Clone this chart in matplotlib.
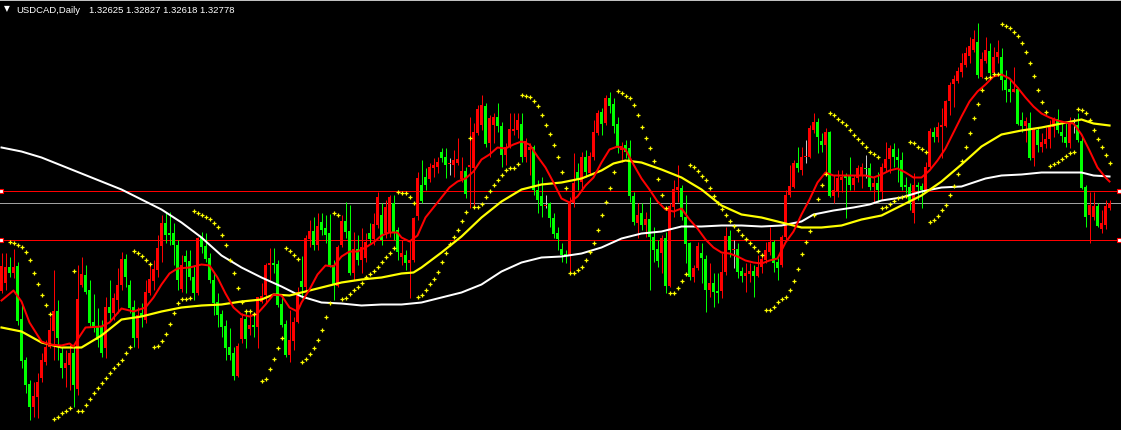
import numpy as np
import matplotlib
matplotlib.use("Agg")
import matplotlib.pyplot as plt

# USDCAD daily candles, levels (chart rows, top = 0)
# red body = rising day, green body = falling day (terminal colour scheme)
opens = [
    291, 283, 267, 273, 266, 319, 360, 384, 407, 397,
    378, 362, 347, 331, 311, 353, 368, 365, 353, 389,
    285, 275, 290, 322, 327, 327, 348, 307, 313, 300,
    285, 259, 285, 307, 338, 313, 320, 293, 281, 270,
    246, 223, 233, 233, 245, 289, 256, 261, 277, 293,
    237, 246, 258, 280, 302, 314, 326, 347, 353, 376,
    339, 319, 329, 325, 327, 302, 295, 265, 263, 264,
    304, 324, 355, 341, 322, 281, 287, 239, 231, 245,
    222, 228, 233, 265, 286, 245, 221, 231, 273, 249,
    260, 258, 233, 239, 225, 215, 233, 232, 203, 230,
    257, 255, 263, 260, 216, 185, 177, 179, 168, 167,
    152, 157, 164, 165, 163, 179, 171, 167, 168, 133,
    125, 106, 143, 125, 117, 126, 155, 147, 131, 130,
    124, 157, 150, 147, 190, 196, 206, 203, 218, 233,
    249, 254, 255, 203, 172, 182, 157, 173, 157, 133,
    112, 123, 98, 104, 124, 150, 145, 148, 196, 223,
    213, 225, 219, 237, 249, 253, 238, 286, 207, 190,
    188, 217, 243, 277, 268, 253, 259, 290, 283, 291,
    291, 272, 236, 250, 249, 271, 276, 274, 271, 276,
    267, 260, 252, 242, 262, 265, 237, 195, 187, 163,
    170, 157, 157, 130, 122, 141, 145, 132, 196, 191,
    180, 176, 176, 185, 178, 176, 168, 168, 187, 183,
    191, 168, 159, 149, 157, 160, 185, 187, 213, 185,
    186, 190, 167, 132, 137, 127, 126, 101, 84, 81,
    72, 65, 56, 50, 42, 77, 61, 51, 73, 57,
    57, 80, 89, 92, 89, 120, 126, 123, 158, 130,
    147, 144, 139, 127, 119, 132, 137, 143, 123, 125,
    141, 187, 215, 217, 206, 229, 225, 208,
]
closes = [
    266, 267, 273, 267, 321, 361, 385, 407, 396, 382,
    360, 347, 330, 311, 338, 368, 363, 353, 385, 299,
    274, 292, 323, 328, 340, 353, 307, 313, 298, 285,
    259, 277, 308, 338, 315, 317, 292, 279, 269, 248,
    223, 235, 235, 245, 280, 265, 262, 277, 293, 238,
    247, 259, 280, 303, 315, 327, 348, 355, 376, 346,
    318, 339, 325, 327, 297, 296, 265, 263, 265, 305,
    325, 355, 340, 322, 292, 287, 238, 231, 245, 226,
    230, 235, 265, 285, 247, 221, 232, 273, 249, 260,
    247, 242, 239, 224, 197, 240, 207, 197, 232, 252,
    253, 263, 260, 218, 178, 201, 185, 167, 165, 162,
    158, 165, 163, 160, 159, 171, 194, 165, 132, 109,
    105, 144, 118, 117, 126, 155, 147, 129, 129, 120,
    157, 141, 147, 190, 200, 206, 205, 218, 234, 239,
    255, 256, 202, 183, 180, 157, 172, 156, 132, 113,
    124, 98, 106, 126, 148, 146, 152, 196, 222, 215,
    225, 219, 237, 250, 261, 238, 286, 206, 189, 187,
    217, 244, 277, 268, 246, 258, 290, 283, 292, 293,
    272, 236, 250, 249, 272, 276, 273, 271, 276, 267,
    259, 250, 242, 263, 268, 237, 195, 186, 163, 168,
    157, 156, 128, 122, 137, 145, 132, 196, 190, 178,
    177, 178, 185, 178, 168, 167, 169, 187, 183, 190,
    167, 159, 148, 157, 160, 187, 187, 203, 185, 187,
    190, 167, 131, 137, 127, 125, 101, 85, 79, 71,
    63, 53, 46, 39, 75, 59, 50, 73, 57, 52,
    80, 90, 92, 89, 124, 126, 121, 158, 130, 145,
    142, 139, 125, 119, 130, 136, 143, 122, 124, 140,
    188, 217, 205, 206, 226, 223, 206, 203,
]
highs = [
    253, 253, 257, 249, 262, 305, 357, 380, 382, 373,
    353, 340, 317, 270, 300, 347, 350, 343, 347, 265,
    257, 265, 280, 294, 308, 320, 297, 280, 293, 268,
    252, 254, 280, 300, 307, 303, 280, 265, 260, 235,
    215, 212, 212, 223, 240, 255, 250, 250, 265, 237,
    232, 233, 253, 272, 293, 310, 320, 328, 347, 343,
    313, 310, 310, 313, 297, 283, 263, 248, 248, 260,
    297, 320, 310, 317, 287, 256, 235, 220, 217, 213,
    213, 215, 214, 260, 245, 215, 202, 205, 232, 235,
    228, 233, 223, 213, 192, 203, 200, 195, 195, 227,
    240, 250, 240, 217, 172, 160, 168, 163, 158, 157,
    148, 148, 158, 150, 138, 157, 167, 117, 123, 105,
    95, 103, 115, 113, 103, 122, 143, 113, 113, 113,
    113, 138, 143, 145, 180, 177, 195, 202, 213, 227,
    243, 250, 197, 153, 163, 152, 150, 152, 120, 110,
    108, 95, 92, 98, 117, 142, 140, 140, 192, 203,
    203, 212, 197, 227, 240, 235, 232, 203, 180, 165,
    185, 195, 242, 265, 242, 243, 255, 263, 273, 273,
    253, 227, 230, 240, 243, 267, 263, 263, 265, 255,
    255, 242, 227, 240, 258, 235, 190, 165, 160, 147,
    147, 140, 125, 113, 118, 133, 128, 131, 175, 170,
    170, 173, 157, 175, 165, 163, 155, 163, 177, 172,
    163, 142, 145, 143, 148, 152, 177, 183, 173, 182,
    183, 162, 128, 127, 122, 108, 100, 82, 75, 67,
    53, 47, 37, 30, 23, 52, 37, 43, 47, 40,
    48, 70, 80, 67, 87, 112, 117, 112, 128, 127,
    133, 127, 120, 117, 109, 123, 123, 117, 118, 113,
    135, 185, 192, 192, 203, 210, 200, 200,
]
lows = [
    293, 290, 277, 278, 325, 368, 393, 420, 417, 418,
    382, 365, 348, 360, 360, 378, 387, 390, 407, 395,
    287, 294, 327, 332, 347, 357, 358, 320, 320, 313,
    290, 287, 313, 347, 348, 327, 323, 295, 290, 277,
    262, 243, 245, 265, 290, 292, 293, 280, 300, 295,
    253, 262, 283, 315, 327, 337, 360, 360, 380, 377,
    343, 348, 335, 337, 348, 303, 302, 280, 273, 307,
    327, 357, 362, 350, 323, 298, 290, 247, 250, 250,
    235, 243, 267, 300, 287, 247, 238, 275, 280, 265,
    273, 262, 243, 245, 228, 245, 238, 237, 240, 260,
    265, 270, 298, 262, 220, 203, 190, 182, 177, 173,
    162, 178, 175, 177, 165, 182, 198, 208, 208, 135,
    130, 147, 157, 143, 132, 167, 165, 148, 135, 138,
    162, 162, 175, 195, 213, 217, 208, 227, 238, 250,
    262, 263, 272, 207, 190, 190, 177, 175, 160, 135,
    135, 125, 113, 133, 153, 162, 158, 202, 225, 238,
    230, 237, 290, 262, 267, 273, 293, 287, 217, 202,
    220, 263, 280, 282, 270, 283, 312, 297, 307, 303,
    298, 275, 257, 268, 278, 282, 292, 282, 297, 277,
    273, 263, 255, 272, 280, 267, 240, 197, 188, 172,
    175, 163, 158, 133, 153, 152, 173, 197, 203, 197,
    192, 218, 190, 190, 182, 188, 178, 190, 203, 202,
    200, 172, 173, 167, 182, 190, 193, 210, 223, 200,
    208, 192, 168, 142, 142, 158, 127, 115, 107, 83,
    77, 67, 63, 52, 78, 78, 63, 75, 75, 63,
    90, 102, 102, 92, 125, 132, 142, 160, 166, 152,
    152, 148, 148, 137, 133, 142, 147, 148, 133, 142,
    189, 227, 243, 220, 227, 233, 229, 210,
]

nan = float("nan")
# parabolic SAR dots, one per candle
sar = [
    nan, nan, 242, 243, 245, 247, 252, 260, 273, 284, 295, 305, 314,
    419, 417, 413, 411, 408,
    271,
    411, 411,
    405, 399, 393, 388, 383, 378, 373,
    368, 364, 360, 353, 347,
    251, 253, 256, 260, 264,
    347, 346, 341, 334, 324, 313, 303, 299, 299, 298,
    211, 213, 215, 217, 219, 223, 227, 235, 245,
    260, 273, 288, 302, 311, 311, 314,
    nan,
    381, 379, 369, 359, 348, 338,
    248, 251, 255, 259,
    362, 359, 354, 348, 340, 330, 317, 303,
    213, 215,
    299, 298, 294, 290, 287, 283, 277, 274, 271, 267, 262, 257, 253, 248,
    192, 193, 193, 197, 203,
    297, 295, 290, 284, 279, 272, 262, 253, 244, 237, 230, 221, 212,
    138,
    207, 207, 204, 197, 191, 185, 180, 175, 170, 168, 168, 164,
    95, 96, 97, 101, 106, 115, 125, 134, 145, 157, 172, 188,
    273, 273, 270, 267, 260, 252, 243, 230, 215, 202, 188, 172,
    91, 93, 96, 98, 105, 115, 127, 138, 148, 161, 179, 195, 208,
    293, 293, 288, 281, 274,
    165, 167, 171, 176, 180, 188, 196, 203, 209, 215, 221, 226, 230, 235,
    239, 243, 247, 251, 255,
    310, 310, 307, 302, 299, 297, 290, 281, 269, 254, 242, 231, 215, 199,
    185, 174,
    113, 115, 119, 122, 125, 130, 135, 139, 143, 147, 152, 154, 157,
    208, 207, 204, 201, 198, 197, 196,
    142, 143, 147, 149, 152,
    222, 220, 216, 210, 205, 195, 186, 174, 161, 147, 133, 118, 104, 90,
    78, 77, 74, 74,
    24, 26, 28, 32, 36, 43, 52, 63, 76, 90, 102, 112,
    166, 164, 162, 159, 156, 153, 152,
    109, 110, 113, 120, 130, 139, 147, 155, 163,
]

# moving averages, read at a sample of candles
red_ma_idx = [0, 3, 5, 7, 10, 12, 15, 17, 18, 19, 21, 25, 27, 30, 33, 36, 38, 40,
              42, 44, 47, 50, 52, 54, 56, 58, 60, 62, 64, 66, 68, 70, 72, 74, 75,
              77, 79, 81, 83, 85, 87, 89, 91, 93, 95, 97, 99, 100, 102, 104, 106,
              108, 110, 112, 114, 116, 118, 120, 122, 124, 126, 128, 130, 132,
              134, 136, 138, 140, 142, 144, 146, 148, 150, 152, 154, 156, 158,
              160, 162, 164, 166, 168, 170, 172, 174, 176, 178, 180, 182, 184,
              186, 188, 190, 192, 194, 196, 198, 200, 202, 204, 206, 208, 212,
              216, 218, 220, 222, 224, 226, 228, 230, 232, 234, 236, 238, 240,
              242, 244, 246, 248, 250, 252, 254, 256, 258, 260, 262, 264, 266,
              268, 270, 272, 274, 276, 277]
red_ma = [301, 291, 302, 323, 342, 345, 346, 344, 347, 340, 328, 327, 323, 309,
          312, 308, 298, 285, 274, 269, 268, 265, 266, 278, 294, 308, 315, 317,
          314, 305, 295, 296, 308, 312, 303, 290, 275, 266, 267, 257, 252, 252,
          248, 243, 236, 233, 233, 238, 242, 236, 218, 208, 198, 188, 182, 179,
          172, 160, 155, 148, 149, 145, 142, 145, 157, 168, 183, 199, 203, 197,
          186, 178, 163, 150, 147, 150, 165, 179, 190, 202, 210, 212, 209, 220,
          229, 240, 248, 253, 254, 257, 261, 263, 264, 261, 259, 243, 232, 215,
          200, 183, 173, 176, 176, 176, 178, 175, 171, 169, 173, 178, 178, 171,
          161, 149, 133, 117, 102, 92, 85, 77, 75, 79, 88, 98, 107, 114, 118,
          121, 123, 124, 135, 151, 168, 178, 182]

yellow_ma_idx = [0, 5, 10, 15, 20, 25, 30, 35, 40, 45, 50, 55, 60, 65, 68, 72, 75,
                 80, 85, 90, 95, 100, 103, 105, 110, 115, 120, 125, 130, 135, 140,
                 145, 150, 153, 156, 160, 165, 170, 175, 180, 185, 190, 195, 200,
                 205, 210, 215, 220, 225, 230, 235, 240, 245, 250, 255, 260, 265,
                 270, 273, 277]
yellow_ma = [328, 332, 343, 348, 348, 336, 320, 317, 312, 308, 306, 305, 302, 300,
             295, 296, 293, 288, 283, 280, 278, 274, 273, 268, 253, 237, 218, 202,
             190, 185, 183, 179, 171, 164, 161, 163, 170, 178, 190, 206, 215, 218,
             223, 228, 228, 226, 220, 216, 206, 196, 182, 165, 147, 135, 131, 128,
             124, 120, 124, 126]

white_ma_idx = [0, 5, 10, 15, 20, 25, 30, 35, 40, 45, 50, 55, 60, 65, 70, 75, 80,
                85, 90, 95, 100, 105, 110, 115, 120, 125, 130, 135, 140, 145, 150,
                155, 160, 165, 170, 175, 180, 185, 190, 195, 200, 203, 208, 213,
                217, 220, 225, 230, 235, 240, 243, 246, 250, 255, 260, 270, 273, 277]
white_ma = [148, 152, 158, 166, 174, 182, 190, 200, 210, 223, 238, 256, 268, 278,
            287, 297, 303, 304, 306, 305, 305, 303, 298, 293, 285, 272, 263, 258,
            257, 254, 248, 239, 234, 232, 227, 227, 226, 226, 227, 226, 222, 215,
            211, 208, 205, 201, 198, 192, 188, 187, 183, 179, 176, 175, 173, 173,
            176, 177]

red_levels = [191, 240]
gray_levels = [203]
symbol = "USDCAD,Daily"
quote = "1.32625 1.32827 1.32618 1.32778"

W, H = 1121, 431
fig = plt.figure(figsize=(W / 100, H / 100), dpi=100, facecolor="black")
ax = fig.add_axes([0, 0, 1, 1], facecolor="black")
ax.set_xlim(-0.375, (W - 1.5) / 4)
ax.set_ylim(H - 0.5, -0.5)  # whole levels land on pixel rows
ax.axis("off")

px = 72 / 100  # one pixel in points

for y in gray_levels:
    ax.axhline(y, color="#a0a0a0", lw=px)
for y in red_levels:
    ax.axhline(y, color="#ff0000", lw=px)

# candles
o = np.array(opens, float)
c = np.array(closes, float)
hi = np.array(highs, float)
lo = np.array(lows, float)
idx = np.arange(len(o))
assert len(o) == len(c) == len(hi) == len(lo) == len(sar)

cols = np.where(c < o, "#ff0000", "#00ff00").astype(object)
doji = np.abs(o - c) < 1.5
wick_cols = cols.copy()
wick_cols[doji] = "#c8c8c8"

ax.vlines(idx, hi, lo, colors=list(wick_cols), lw=px, zorder=2)
top = np.minimum(o, c)
height = np.maximum(np.abs(o - c), 1.0)
ax.bar(idx, height, bottom=top, width=0.75, color=list(cols), linewidth=0,
       antialiased=False, zorder=3)

# indicator lines
ax.plot(white_ma_idx, white_ma, color="white", lw=2 * px, zorder=4)
ax.plot(yellow_ma_idx, yellow_ma, color="#ffff00", lw=2.2 * px, zorder=4)
ax.plot(red_ma_idx, red_ma, color="#ff0000", lw=2 * px, zorder=5)
ax.plot(idx, sar, ls="none", marker="+", ms=3.2, mew=0.9, color="#ffff00", zorder=6)

# level end markers
for y in red_levels:
    ax.plot([-0.1], [y], marker="s", ms=3.4, mfc="white", mec="#ff0000", mew=0.8,
            zorder=7, clip_on=False)
    ax.plot([(W - 4) / 4], [y], marker="s", ms=3.4, mfc="white", mec="#ff0000",
            mew=0.8, zorder=7, clip_on=False)

# frame line on top and header text
ax.axhline(0, color="#c0c0c0", lw=px)
fig.text(4 / W, 1 - 9 / H, "\u25bc", color="white", fontsize=5.5, va="center")
fig.text(16 / W, 1 - 10.5 / H, symbol, color="white", fontsize=6.8, va="center",
         family="Liberation Sans")
fig.text(89 / W, 1 - 10.5 / H, quote, color="white", fontsize=6.8, va="center",
         family="Liberation Sans")

fig.savefig("out.png", dpi=100, facecolor="black")
